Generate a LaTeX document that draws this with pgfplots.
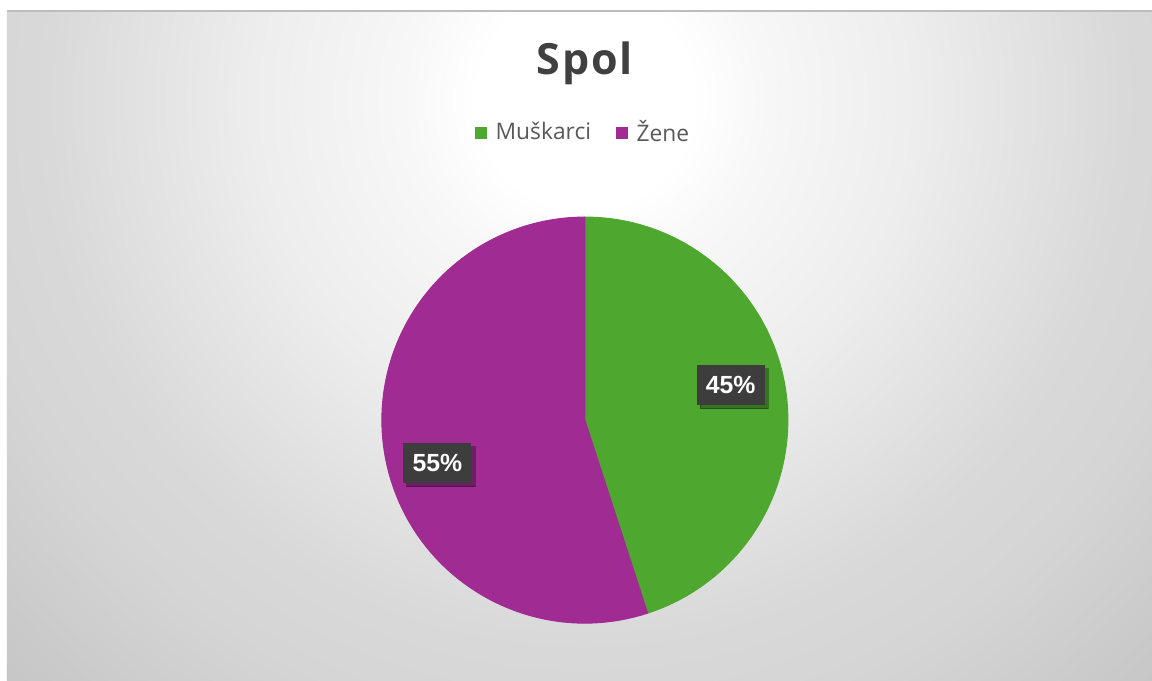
\documentclass[border=0pt]{standalone}
\usepackage{fontspec}
\setmainfont{Open Sans}
\newfontfamily\labelfont{Liberation Sans}
\newfontfamily\titlefont[LetterSpace=4]{Open Sans}
\usepackage{pgfplots}
\usepackage{pgfplotstable}
\pgfplotsset{compat=1.18}
\usetikzlibrary{shadows}

\definecolor{muskgreen}{HTML}{4EA72E}
\definecolor{zenepurple}{HTML}{A02B93}
\definecolor{titlegray}{HTML}{404040}
\definecolor{legendgray}{HTML}{595959}
\definecolor{labelbox}{HTML}{3D3D3D}
\definecolor{frameline}{HTML}{BDBDBD}

% 1 px of the reference = 16cm/1152
\def\pxu{0.0138889cm}
\def\pieR{2.8194cm}

\pgfdeclareradialshading{bgshade}{\pgfpointorigin}{%
  color(0cm)=(white);
  color(1.5cm)=(white);
  color(2.5cm)=(black!3);
  color(4.6cm)=(black!7);
  color(7.5cm)=(black!15);
  color(8.8cm)=(black!16.5);
  color(11cm)=(black!21.5);
  color(12cm)=(black!23)}

\pgfdeclareplotmark{nothing}{}

% slice: centre, share in %, start angle, label angle and distance (px)
\pgfplotstableread{
cx  cy  value start lang  lr
585 420 45    90    13.5  150
}\muskdata
\pgfplotstableread{
cx  cy  value start lang    lr
585 420 55    -72   -163.75 153.6
}\zenedata

\tikzset{
  data label/.style={
    fill=labelbox, text=white, inner sep=0pt,
    minimum width=26.9pt, minimum height=15.8pt,
    font=\labelfont\bfseries\fontsize{9.8}{11}\selectfont,
    drop shadow={shadow xshift=1.4pt, shadow yshift=-1.4pt, opacity=0.3, fill=black},
  },
}
\pgfplotsset{
  pie slice/.style={
    scatter, only marks, mark=nothing, forget plot,
    visualization depends on={\thisrow{value}\as\sliceval},
    visualization depends on={\thisrow{start}\as\slicestart},
    visualization depends on={\thisrow{lang}\as\labang},
    visualization depends on={\thisrow{lr}\as\labrad},
    scatter/@pre marker code/.code={
      \fill[#1] (0,0) -- (\slicestart:\pieR)
        arc[start angle=\slicestart, delta angle=-3.6*\sliceval, radius=\pieR] -- cycle;
      \node[data label] at (\labang:{\labrad*\pxu})
        {\pgfmathprintnumber[assume math mode=true]{\sliceval}\%};
    },
    scatter/@post marker code/.code={},
  },
  square legend/.style={legend image code/.code={
    \fill[#1, fill opacity=1] (0pt,-2.2pt) rectangle (4.3pt,2.1pt);
    \path[draw=none, fill=none] (0pt,-0.1pt) rectangle (5.8pt,0.1pt);}},
}

\begin{document}
\begin{tikzpicture}
\useasboundingbox (0,0) rectangle (16cm,9.4444cm);
\fill[white] (0,0) rectangle (16cm,9.4444cm);
\begin{scope}
  \clip (0.0972cm,0) rectangle (16cm,9.2917cm);
  \node[inner sep=0pt] at (8.125cm,8.056cm) {\pgfuseshading{bgshade}};
\end{scope}
\draw[frameline, line width=0.5pt] (0.0972cm,9.2917cm) -- (16cm,9.2917cm);

\begin{axis}[
  at={(0,0)}, anchor=south west,
  x=\pxu, y=\pxu, y dir=reverse,
  xmin=0, xmax=1152, ymin=0, ymax=680,
  hide axis, clip=false,
  title={Spol},
  title style={font=\titlefont\bfseries\fontsize{17}{20}\selectfont, text=titlegray,
    at={(axis description cs:0.5078,0.9103)}, anchor=center, yshift=-7pt},
  legend columns=2,
  legend style={at={(axis description cs:0.5078,0.8044)}, anchor=center,
    draw=none, fill=white, fill opacity=0.3, text opacity=1,
    inner xsep=6pt, inner ysep=4pt,
    font=\fontsize{9}{11}\selectfont, text=legendgray,
    /tikz/every even column/.append style={column sep=8pt}},
]
\addplot[pie slice=muskgreen] table[x=cx, y=cy] {\muskdata};
\addplot[pie slice=zenepurple] table[x=cx, y=cy] {\zenedata};

\addlegendimage{square legend=muskgreen}
\addlegendentry{Muškarci}
\addlegendimage{square legend=zenepurple}
\addlegendentry{Žene}
\end{axis}
\end{tikzpicture}
\end{document}
